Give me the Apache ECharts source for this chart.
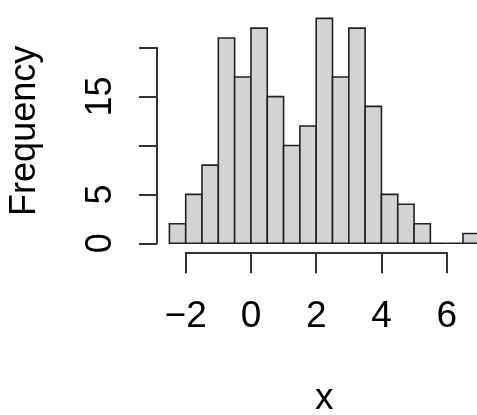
<!DOCTYPE html>
<html>
<head>
<meta charset="utf-8">
<script src="https://cdn.jsdelivr.net/npm/echarts@6/dist/echarts.min.js"></script>
<style>html,body{margin:0;padding:0;background:#fff;}#c{width:477px;height:415px;}</style>
</head>
<body>
<div id="c"></div>
<script>
// Histogram bin edges (x) and counts per bin
const binEdges = [-2.5, -2, -1.5, -1, -0.5, 0, 0.5, 1, 1.5, 2, 2.5, 3, 3.5, 4, 4.5, 5, 5.5, 6, 6.5, 7];
const counts = [2, 5, 8, 21, 17, 22, 15, 10, 12, 23, 17, 22, 14, 5, 4, 2, 0, 0, 1];
const xTicks = [-2, 0, 2, 4, 6];
const xTickLabels = ['\u22122', '0', '2', '4', '6'];
const yTicks = [0, 5, 10, 15, 20];
const yTickLabels = ['0', '5', '', '15', ''];
const xTitle = 'x';
const yTitle = 'Frequency';

const FONT = 'Liberation Sans, Arial, Helvetica, sans-serif';
const binData = counts.map((c, i) => [binEdges[i], binEdges[i + 1], c]);

const chart = echarts.init(document.getElementById('c'), null, {renderer: 'canvas'});
const axisCol = '#333';
chart.setOption({
  animation: false,
  backgroundColor: '#fff',
  grid: [
    {left: 157, top: 9.4, width: 334.7, height: 242.9, outerBoundsMode: 'none', containLabel: false},
    {left: 157, top: 47.7, width: 100, height: 195.6, outerBoundsMode: 'none', containLabel: false},
    {left: 185.7, top: 200, width: 261, height: 52.3, outerBoundsMode: 'none', containLabel: false}
  ],
  xAxis: [
    {gridIndex: 0, type: 'value', min: -2.88, max: 7.38,
     name: xTitle, nameLocation: 'middle', nameGap: 128,
     nameTextStyle: {fontFamily: FONT, fontSize: 37, color: '#000'},
     axisLine: {show: false}, axisTick: {show: false}, axisLabel: {show: false}, splitLine: {show: false}},
    {gridIndex: 1, type: 'value', show: false, min: 0, max: 1},
    {gridIndex: 2, type: 'value', min: xTicks[0], max: xTicks[xTicks.length - 1], interval: 2,
     axisLine: {show: true, lineStyle: {color: axisCol, width: 2}},
     axisTick: {show: true, length: 21, lineStyle: {color: axisCol, width: 2}},
     axisLabel: {show: true, margin: 46, fontFamily: FONT, fontSize: 37, color: '#000',
       formatter: v => xTickLabels[xTicks.indexOf(v)]},
     splitLine: {show: false}}
  ],
  yAxis: [
    {gridIndex: 0, type: 'value', min: -0.92, max: 23.92,
     name: yTitle, nameLocation: 'middle', nameGap: 114, nameRotate: 90,
     nameTextStyle: {fontFamily: FONT, fontSize: 36, color: '#000'},
     axisLine: {show: false}, axisTick: {show: false}, axisLabel: {show: false}, splitLine: {show: false}},
    {gridIndex: 1, type: 'value', min: yTicks[0], max: yTicks[yTicks.length - 1], interval: 5,
     axisLine: {show: true, lineStyle: {color: axisCol, width: 2}},
     axisTick: {show: true, length: 18, lineStyle: {color: axisCol, width: 2}},
     axisLabel: {show: true, rotate: 90, margin: 38, fontFamily: FONT, fontSize: 36, color: '#000',
       formatter: v => yTickLabels[yTicks.indexOf(v)]},
     splitLine: {show: false}},
    {gridIndex: 2, type: 'value', show: false, min: 0, max: 1}
  ],
  series: [{
    type: 'custom',
    xAxisIndex: 0, yAxisIndex: 0,
    data: binData,
    encode: {x: [0, 1], y: 2},
    renderItem: function (params, api) {
      const p0 = api.coord([api.value(0), 0]);
      const p1 = api.coord([api.value(1), api.value(2)]);
      return {
        type: 'rect',
        shape: {x: p0[0], y: p1[1], width: p1[0] - p0[0], height: p0[1] - p1[1]},
        style: {fill: '#d3d3d3', stroke: '#222', lineWidth: 1.6}
      };
    }
  }]
});
</script>
</body>
</html>
